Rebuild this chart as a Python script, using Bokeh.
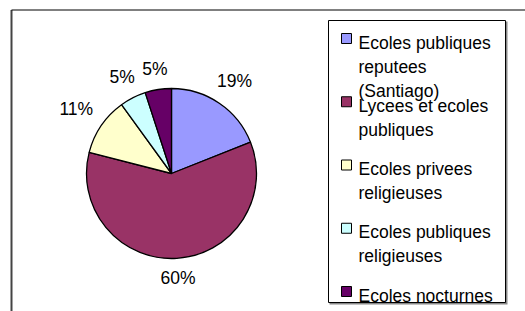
import math
from bokeh.plotting import figure
from bokeh.models import Range1d, ColumnDataSource
from bokeh.core.properties import value
from bokeh.embed import file_html
from bokeh.resources import INLINE

# ---- data ----
categories = [
    "Ecoles publiques\nreputees\n(Santiago)",
    "Lycees et ecoles\npubliques",
    "Ecoles privees\nreligieuses",
    "Ecoles publiques\nreligieuses",
    "Ecoles nocturnes",
]
shares = [19, 60, 11, 5, 5]
colors = ["#9999FF", "#993366", "#FFFFCC", "#CCFFFF", "#660066"]

# ---- layout (screen pixels -> data units, 1 unit = 1 px) ----
W, H = 525, 311
FONT = "Liberation Sans"
FS = 17.5

def dx(sx):
    return sx

def dy(sy):
    return H - sy

p = figure(width=W, height=H, output_backend="svg", toolbar_location=None,
           x_range=Range1d(0, W), y_range=Range1d(0, H),
           x_axis_location=None, y_axis_location=None, min_border=0)
p.grid.visible = False
p.outline_line_color = None
p.background_fill_color = "white"
p.border_fill_color = "white"

# outer chart-area frame (left and top edges visible)
p.line([dx(11), dx(11)], [dy(9.5), dy(320)], line_color="#444444", line_width=2)
p.line([dx(11), dx(530)], [dy(9.5), dy(9.5)], line_color="black", line_width=1)

# ---- pie ----
cx, cy, R = dx(171), dy(173), 85
total = float(sum(shares))
starts, ends, mids = [], [], []
cum = 0.0
for s in shares:
    a0 = math.pi / 2 - 2 * math.pi * cum / total
    cum += s
    a1 = math.pi / 2 - 2 * math.pi * cum / total
    starts.append(a0)
    ends.append(a1)
    mids.append((a0 + a1) / 2)

src = ColumnDataSource(dict(start=starts, end=ends, color=colors))
p.wedge(x=cx, y=cy, radius=R, start_angle="start", end_angle="end",
        direction="clock", fill_color="color", line_color="black",
        line_width=1.3, source=src)

# percentage labels outside the slices
lx, ly, lt = [], [], []
gap = 12
for s, m in zip(shares, mids):
    txt = f"{s}%"
    w = FS * (0.556 * (len(txt) - 1) + 0.889)
    h = FS * 0.75
    c, sn = math.cos(m), math.sin(m)
    d = R + gap + abs(c) * w / 2 + abs(sn) * h / 2
    lx.append(cx + d * c)
    ly.append(cy + d * sn)
    lt.append(txt)
p.text(x=lx, y=ly, text=lt, text_font=value(FONT), text_font_size=f"{FS}px",
       text_align="center", text_baseline="middle", text_color="black")

# ---- legend ----
p.quad(left=dx(329), right=dx(507), top=dy(21), bottom=dy(304),
       fill_color="#888888", line_color=None)
p.quad(left=dx(328), right=dx(505), top=dy(20), bottom=dy(302),
       fill_color="white", line_color="black", line_width=1)

first_base = 42
entry_step = 63.25
line_step = 24
mx, my = [], []
tx, ty, tt = [], [], []
for i, lab in enumerate(categories):
    b = first_base + entry_step * i
    mx.append(dx(346))
    my.append(dy(b - 4))
    for j, line in enumerate(lab.split("\n")):
        tx.append(dx(358))
        ty.append(dy(b + line_step * j))
        tt.append(line)
p.rect(x=mx, y=my, width=10, height=10, fill_color=colors,
       line_color="black", line_width=1)
p.text(x=tx, y=ty, text=tt, text_font=value(FONT), text_font_size=f"{FS}px",
       text_align="left", text_baseline="alphabetic", text_color="black")

open("out.html", "w").write(file_html(p, INLINE))
